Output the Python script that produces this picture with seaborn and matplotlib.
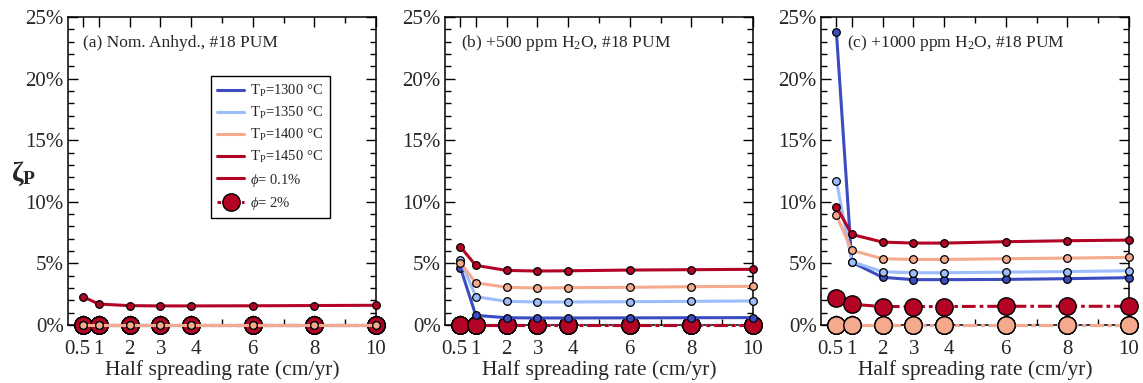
import numpy as np
import pandas as pd
import matplotlib
matplotlib.use("Agg")
import matplotlib.pyplot as plt
from matplotlib.lines import Line2D
from matplotlib.transforms import ScaledTranslation
from matplotlib.ticker import FixedLocator, MultipleLocator, FuncFormatter
import seaborn as sns

# Half spreading rate (cm/yr)
rates = [0.5, 1, 2, 3, 4, 6, 8, 10]
potential_temps = [1300, 1350, 1400, 1450]

# zeta_P (%) for residual porosity phi = 0.1 %
a_phi01_1300 = [0, 0, 0, 0, 0, 0, 0, 0]
a_phi01_1350 = [0, 0, 0, 0, 0, 0, 0, 0]
a_phi01_1400 = [0, 0, 0, 0, 0, 0, 0, 0]
a_phi01_1450 = [2.28, 1.70, 1.57, 1.55, 1.55, 1.56, 1.58, 1.60]

b_phi01_1300 = [4.66, 0.78, 0.59, 0.57, 0.57, 0.58, 0.59, 0.60]
b_phi01_1350 = [5.30, 2.30, 1.92, 1.87, 1.87, 1.89, 1.92, 1.95]
b_phi01_1400 = [5.05, 3.43, 3.06, 3.00, 3.03, 3.06, 3.11, 3.14]
b_phi01_1450 = [6.34, 4.84, 4.43, 4.38, 4.40, 4.46, 4.49, 4.52]

c_phi01_1300 = [23.8, 5.10, 3.87, 3.68, 3.68, 3.70, 3.76, 3.84]
c_phi01_1350 = [11.7, 5.15, 4.32, 4.24, 4.24, 4.29, 4.34, 4.40]
c_phi01_1400 = [8.89, 6.06, 5.38, 5.32, 5.32, 5.38, 5.43, 5.49]
c_phi01_1450 = [9.60, 7.35, 6.73, 6.65, 6.65, 6.76, 6.84, 6.89]

# zeta_P (%) for residual porosity phi = 2 %
a_phi2_1300 = [0, 0, 0, 0, 0, 0, 0, 0]
a_phi2_1350 = [0, 0, 0, 0, 0, 0, 0, 0]
a_phi2_1400 = [0, 0, 0, 0, 0, 0, 0, 0]
a_phi2_1450 = [0, 0, 0, 0, 0, 0, 0, 0]

b_phi2_1300 = [0, 0, 0, 0, 0, 0, 0, 0]
b_phi2_1350 = [0, 0, 0, 0, 0, 0, 0, 0]
b_phi2_1400 = [0, 0, 0, 0, 0, 0, 0, 0]
b_phi2_1450 = [0, 0, 0, 0, 0, 0, 0, 0]

c_phi2_1300 = [0, 0, 0, 0, 0, 0, 0, 0]
c_phi2_1350 = [0, 0, 0, 0, 0, 0, 0, 0]
c_phi2_1400 = [0, 0, 0, 0, 0, 0, 0, 0]
c_phi2_1450 = [2.18, 1.68, 1.50, 1.50, 1.50, 1.52, 1.52, 1.52]

panel_titles = [
    "(a) Nom. Anhyd., #18 PUM",
    "(b) +500 ppm H$_2$O, #18 PUM",
    "(c) +1000 ppm H$_2$O, #18 PUM",
]
x_tick_values = [0.5, 1, 2, 3, 4, 6, 8, 10]
x_tick_labels = ["0.5", "1", "2", "3", "4", "6", "8", "10"]
legend_labels = ["T$_\\mathrm{P}$=1300 \u00b0C", "T$_\\mathrm{P}$=1350 \u00b0C",
                 "T$_\\mathrm{P}$=1400 \u00b0C", "T$_\\mathrm{P}$=1450 \u00b0C",
                 "$\\phi$= 0.1%", "$\\phi$= 2%"]

phi01 = {
    "a": [a_phi01_1300, a_phi01_1350, a_phi01_1400, a_phi01_1450],
    "b": [b_phi01_1300, b_phi01_1350, b_phi01_1400, b_phi01_1450],
    "c": [c_phi01_1300, c_phi01_1350, c_phi01_1400, c_phi01_1450],
}
phi2 = {
    "a": [a_phi2_1300, a_phi2_1350, a_phi2_1400, a_phi2_1450],
    "b": [b_phi2_1300, b_phi2_1350, b_phi2_1400, b_phi2_1450],
    "c": [c_phi2_1300, c_phi2_1350, c_phi2_1400, c_phi2_1450],
}

# long-form table
rows = []
for panel in "abc":
    for tp, s01, s2 in zip(potential_temps, phi01[panel], phi2[panel]):
        for r, v in zip(rates, s01):
            rows.append((panel, tp, 0.1, r, v))
        for r, v in zip(rates, s2):
            rows.append((panel, tp, 2.0, r, v))
df = pd.DataFrame(rows, columns=["panel", "Tp", "phi", "rate", "zeta"])

sns.set_theme(style="ticks")
plt.rcParams["font.family"] = ["Liberation Serif", "DejaVu Serif"]
plt.rcParams["mathtext.fontset"] = "custom"
plt.rcParams["mathtext.rm"] = "Liberation Serif"
plt.rcParams["mathtext.it"] = "Liberation Serif:italic"
plt.rcParams["mathtext.bf"] = "Liberation Serif:bold"

colors = {1300: "#3b4cc0", 1350: "#9dbdfd", 1400: "#f5aa8d", 1450: "#b40426"}
dashdot = (0, (4.5, 1.3, 1.2, 1.3))

W, H = 1143, 383
fig = plt.figure(figsize=(W / 100, H / 100), dpi=100)
lefts = [68, 445, 821]
ax_w, ax_b, ax_h = 308, 383 - 325, 308

# small horizontal nudges (pixels) of the crowded x tick labels
label_nudge = {"0.5": -6, "3": 1, "4": 5}

axes = []
for i, panel in enumerate("abc"):
    ax = fig.add_axes([lefts[i] / W, ax_b / H, ax_w / W, ax_h / H])
    axes.append(ax)
    sub = df[df.panel == panel]
    # phi = 2 % series (large markers, dash-dot)
    for tp in potential_temps:
        d = sub[(sub.Tp == tp) & (sub.phi == 2.0)]
        sns.lineplot(data=d, x="rate", y="zeta", ax=ax, color=colors[tp],
                     lw=2.2, linestyle=dashdot, marker="o", markersize=12.5,
                     markeredgecolor="black", markeredgewidth=1.0,
                     errorbar=None, sort=False, clip_on=False, zorder=3)
    # phi = 0.1 % series (small markers, solid)
    for tp in potential_temps:
        d = sub[(sub.Tp == tp) & (sub.phi == 0.1)]
        sns.lineplot(data=d, x="rate", y="zeta", ax=ax, color=colors[tp],
                     lw=2.2, marker="o", markersize=5.5,
                     markeredgecolor="black", markeredgewidth=0.9,
                     errorbar=None, sort=False, clip_on=False, zorder=4)

    ax.set_xlim(0, 10)
    ax.set_ylim(0, 25)
    ax.xaxis.set_major_locator(FixedLocator(x_tick_values))
    ax.set_xticklabels(x_tick_labels)
    ax.xaxis.set_minor_locator(FixedLocator([5, 7, 9]))
    ax.yaxis.set_major_locator(MultipleLocator(5))
    ax.yaxis.set_minor_locator(MultipleLocator(1))
    ax.yaxis.set_major_formatter(FuncFormatter(lambda v, p: f"{v:g}%"))
    ax.tick_params(which="both", direction="in", top=True, right=True,
                   color="black", width=1.0)
    ax.tick_params(which="major", length=7, labelsize=15)
    ax.tick_params(axis="x", which="major", pad=10.5)
    ax.tick_params(axis="y", which="major", pad=3)
    ax.tick_params(which="minor", length=4)
    for sp in ax.spines.values():
        sp.set_color("black")
        sp.set_linewidth(1.1)
    ax.set_xlabel("Half spreading rate (cm/yr)", fontsize=15.5, labelpad=1)
    ax.set_ylabel("")
    for lab in ax.get_xticklabels():
        dx = label_nudge.get(lab.get_text(), 0)
        if dx:
            lab.set_transform(lab.get_transform() +
                              ScaledTranslation(dx / 100, 0, fig.dpi_scale_trans))

title_x = [0.05, 0.052, 0.083]
for ax, t, tx in zip(axes, panel_titles, title_x):
    ax.text(tx, 0.915, t, transform=ax.transAxes, fontsize=12.5,
            ha="left", va="center")

axes[0].set_ylabel(r"$\mathbf{\zeta}_\mathbf{P}$", fontsize=20, rotation=0,
                   va="center", ha="center")
axes[0].yaxis.set_label_coords(-0.145, 0.49)

handles = [Line2D([], [], color=colors[tp], lw=2.2) for tp in potential_temps]
handles.append(Line2D([], [], color=colors[1450], lw=2.2))
handles.append(Line2D([], [], color=colors[1450], lw=2.2, linestyle=(0, (1.2, 0.8)),
                      marker="o", markersize=12.5, markeredgecolor="black",
                      markeredgewidth=1.0))
leg = axes[0].legend(handles, legend_labels, loc="upper left",
                     bbox_to_anchor=(0.464, 0.808), borderaxespad=0,
                     fontsize=10.5, frameon=True, fancybox=False,
                     edgecolor="black", framealpha=1, handlelength=1.8,
                     handletextpad=0.45, labelspacing=0.42, borderpad=0.45)
leg.get_frame().set_linewidth(1.0)

fig.savefig("out.png", dpi=100)
